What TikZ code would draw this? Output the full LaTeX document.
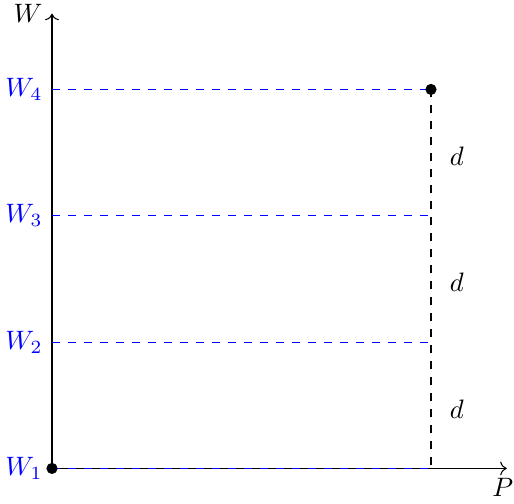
\documentclass[tikz,border=0pt]{standalone}
\usepackage{amsmath}
\usepackage{tikz}
\usetikzlibrary{
    calc,
    arrows.meta
}
\tikzset{
  level/.style={dashed,draw=blue},
  gap/.style={dashed,draw=black}
}
\newcommand{\LevelLine}[2]{%
  \coordinate [label={[text=blue]left:$W_{#1}$}] (W#1) at (0,#2);
  \coordinate (E#1) at (5,#2);
}

\begin{document}
\begin{tikzpicture}[scale=1]
\useasboundingbox (-0.686,-0.46) rectangle (6.095,6.18);
\coordinate (O) at (0,0);
\coordinate [label=left:$W$] (Wtop) at (0,6);
\coordinate [label={[xshift=-1.5pt]below:$P$}] (Pend) at (6,0);
\draw [->] (O) -- (Pend);
\draw [->] (O) -- (Wtop);
\LevelLine{1}{0}
\LevelLine{2}{5/3}
\LevelLine{3}{10/3}
\LevelLine{4}{5}
\draw [gap] (E4) -- (E1);
\draw [level] (W1) -- (E1);
\draw [level] (W2) -- (E2);
\draw [level] (W3) -- (E3);
\draw [level] (W4) -- (E4);
\node (d1) at ($(E1)!0.5!(E2)+(0.34,-0.05)$) {$d$};
\node (d2) at ($(E2)!0.5!(E3)+(0.34,-0.05)$) {$d$};
\node (d3) at ($(E3)!0.5!(E4)+(0.34,-0.05)$) {$d$};
\fill (W1) circle (2.1pt);
\fill (E4) circle (2.1pt);
\end{tikzpicture}
\end{document}
